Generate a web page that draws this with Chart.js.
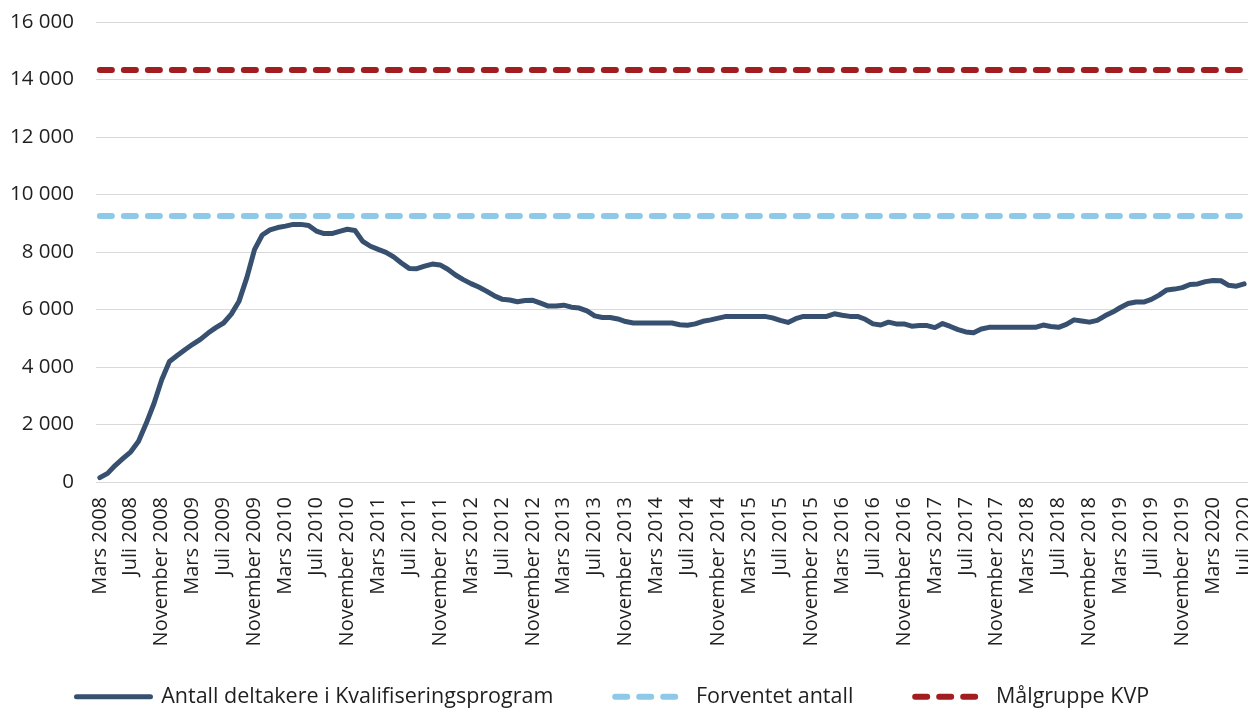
<!DOCTYPE html>
<html lang="no">
<head>
<meta charset="utf-8">
<title>Deltakere i Kvalifiseringsprogram</title>
<script src="https://cdn.jsdelivr.net/npm/chart.js@4/dist/chart.umd.min.js"></script>
<style>
  html, body { margin: 0; padding: 0; background: #ffffff; }
  #wrap { width: 1248px; height: 708px; position: relative; }
</style>
</head>
<body>
<div id="wrap"><canvas id="kvpChart"></canvas></div>
<script>
const monthNames = ["Januar", "Februar", "Mars", "April", "Mai", "Juni",
  "Juli", "August", "September", "Oktober", "November", "Desember"];
const startYear = 2008;
const startMonth = 2; // mars

// Antall deltakere, månedlig mars 2008 - juli 2020
const deltakere = [
  150, 300, 580, 820, 1050, 1420, 2040, 2730, 3560, 4190,
  4400, 4600, 4790, 4960, 5180, 5370, 5530, 5840, 6290, 7100,
  8080, 8590, 8770, 8850, 8900, 8960, 8960, 8920, 8730, 8640,
  8640, 8720, 8790, 8750, 8370, 8200, 8090, 7990, 7830, 7620,
  7430, 7420, 7510, 7580, 7550, 7400, 7200, 7040, 6900, 6780,
  6640, 6480, 6360, 6330, 6270, 6310, 6320, 6220, 6120, 6120,
  6150, 6080, 6050, 5950, 5780, 5720, 5720, 5670, 5580, 5530,
  5530, 5530, 5530, 5530, 5530, 5470, 5450, 5500, 5590, 5640,
  5700, 5760, 5760, 5760, 5760, 5760, 5760, 5710, 5620, 5550,
  5680, 5760, 5760, 5760, 5760, 5850, 5800, 5760, 5760, 5660,
  5500, 5460, 5560, 5500, 5500, 5420, 5440, 5440, 5370, 5510,
  5410, 5300, 5220, 5190, 5320, 5380, 5380, 5380, 5380, 5380,
  5380, 5380, 5460, 5410, 5380, 5480, 5640, 5600, 5560, 5620,
  5780, 5910, 6070, 6210, 6260, 6260, 6350, 6500, 6680, 6710,
  6760, 6870, 6890, 6970, 7010, 7000, 6840, 6810, 6890
];
const forventetAntall = 9250;
const malgruppeKvp = 14330;

const seriesNames = [
  "Antall deltakere i Kvalifiseringsprogram",
  "Forventet antall",
  "Målgruppe KVP"
];
const yMax = 16000;
const yStep = 2000;

const labels = deltakere.map((_, i) => {
  const m = startMonth + i;
  return monthNames[m % 12] + " " + (startYear + Math.floor(m / 12));
});

const fontFamily = "'Open Sans', 'Noto Sans', sans-serif";
const textColor = "#1f1f1f";

function formatThousands(v) {
  return String(v).replace(/\B(?=(\d{3})+(?!\d))/g, " ");
}

// legend gaps are made with trailing spaces, labels.padding is also vertical
const legendGaps = ["          ", "          ", "    "];

new Chart(document.getElementById("kvpChart"), {
  type: "line",
  data: {
    labels: labels,
    datasets: [
      {
        label: seriesNames[0],
        data: deltakere,
        borderColor: "#37506f",
        backgroundColor: "#37506f",
        borderWidth: 5,
        borderCapStyle: "round",
        borderJoinStyle: "round",
        pointRadius: 0,
        tension: 0
      },
      {
        label: seriesNames[1],
        data: labels.map(() => forventetAntall),
        borderColor: "#8ec9e8",
        backgroundColor: "#8ec9e8",
        borderWidth: 6,
        borderDash: [12, 12],
        borderCapStyle: "round",
        pointRadius: 0
      },
      {
        label: seriesNames[2],
        data: labels.map(() => malgruppeKvp),
        borderColor: "#a11d1f",
        backgroundColor: "#a11d1f",
        borderWidth: 6,
        borderDash: [12, 12],
        borderCapStyle: "round",
        pointRadius: 0
      }
    ]
  },
  options: {
    responsive: true,
    maintainAspectRatio: false,
    animation: false,
    layout: { padding: { top: 22, left: 0, right: 0, bottom: 0 } },
    plugins: {
      tooltip: { enabled: false },
      legend: {
        position: "bottom",
        maxHeight: 24,
        labels: {
          usePointStyle: true,
          pointStyle: "line",
          pointStyleWidth: 74,
          padding: 2,
          color: textColor,
          font: { family: fontFamily, size: 21.5 },
          generateLabels(chart) {
            const items = Chart.defaults.plugins.legend.labels.generateLabels(chart);
            items.forEach((it, i) => {
              const ds = chart.data.datasets[i];
              it.text = it.text + legendGaps[i];
              it.strokeStyle = ds.borderColor;
              it.lineWidth = ds.borderWidth;
              it.lineDash = ds.borderDash || [];
              it.lineDashOffset = ds.borderDash ? 20 : 0;
              it.lineCap = "round";
            });
            return items;
          }
        }
      }
    },
    scales: {
      x: {
        offset: true,
        grid: { display: false },
        border: { display: false },
        ticks: {
          autoSkip: false,
          minRotation: 90,
          maxRotation: 90,
          padding: 7,
          color: textColor,
          font: { family: fontFamily, size: 20 },
          callback(value, index) {
            return index % 4 === 0 ? this.getLabelForValue(value) : "";
          }
        },
        afterFit(scale) {
          scale.paddingLeft = 0;
          scale.paddingRight = 0;
          scale.height = 202;
        }
      },
      y: {
        min: 0,
        max: yMax,
        grid: { color: "#d9d9d9", lineWidth: 1, drawTicks: false },
        border: { display: false },
        ticks: {
          stepSize: yStep,
          padding: 22,
          color: textColor,
          font: { family: fontFamily, size: 20.5 },
          callback: v => formatThousands(v)
        },
        afterFit(scale) {
          scale.width = 96;
          scale.paddingTop = 0;
          scale.paddingBottom = 0;
        }
      }
    }
  }
});
</script>
</body>
</html>
